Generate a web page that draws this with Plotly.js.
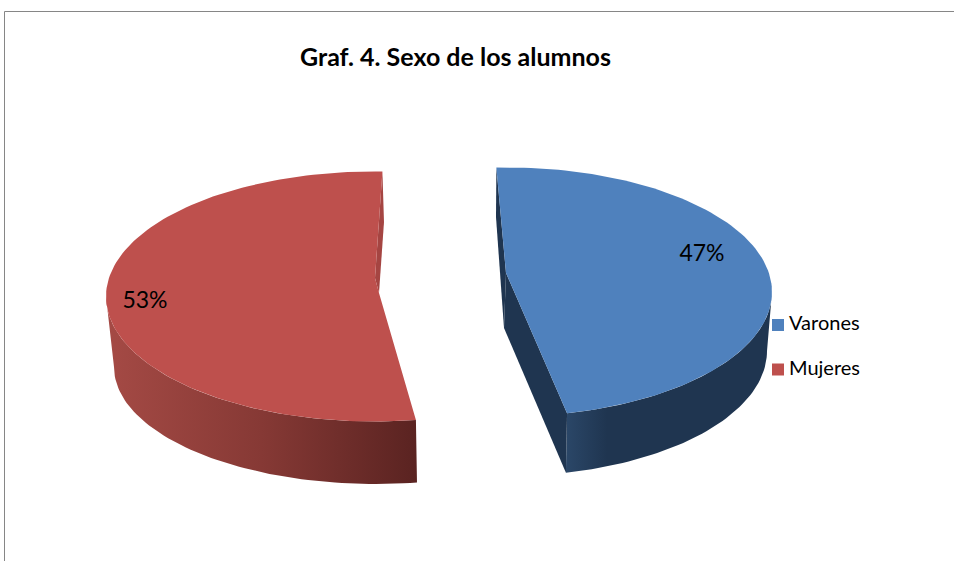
<!DOCTYPE html>
<html>
<head>
<meta charset="utf-8">
<script src="https://cdn.plot.ly/plotly-3.0.1.min.js"></script>
<style>html,body{margin:0;padding:0;background:#fff;overflow:hidden}#chart{width:954px;height:561px}</style>
</head>
<body>
<div id="chart"></div>
<script>
// Data
var categories = ["Varones", "Mujeres"];
var values = [47, 53];
var titleText = "Graf. 4. Sexo de los alumnos";

// Colours
var topColors = ["#4F81BD", "#BE504D"];
var innerColors = ["#1F3550", "#A54542"];
var outerScales = [
  [[0, "#2B4768"], [0.2, "#1F3550"], [1, "#1F3550"]],
  [[0, "#A54A45"], [0.5, "#863935"], [1, "#5A2321"]]
];

// Projection of the tilted, exploded pie (pixel space of the axes)
var startAngles = [-2.3, 171];
var rimTop = [{cx: 507, cy: 292, a: 265, b: 124.5}, {cx: 374, cy: 296.5, a: 268, b: 125}];
var rimBottom = [{cx: 507, cy: 351, a: 260, b: 125}, {cx: 376, cy: 367, a: 262, b: 117}];
var hubTop = [[[506, 273]], [[375, 278], [379, 293]]];
var hubBottom = [504, 328];
var innerBack = [[496, 217], [384, 222]];
var visibleWallEnd = [90, 270];

var total = values.reduce(function (s, v) { return s + v; }, 0);
var spans = values.map(function (v) { return v / total * 360; });

function arc(e, from, to) {
  var n = Math.max(2, Math.ceil(Math.abs(to - from) / 1.5)), xs = [], ys = [];
  for (var i = 0; i <= n; i++) {
    var t = (from + (to - from) * i / n) * Math.PI / 180;
    xs.push(e.cx + e.a * Math.sin(t));
    ys.push(e.cy - e.b * Math.cos(t));
  }
  return {x: xs, y: ys};
}
function poly(x, y, color, grad) {
  var tr = {type: "scatter", mode: "lines", x: x, y: y, fill: "toself", line: {width: 0, color: color},
            fillcolor: color, hoverinfo: "skip", showlegend: false};
  if (grad) tr.fillgradient = {type: "horizontal", colorscale: grad};
  return tr;
}

var traces = [];
values.forEach(function (v, i) {
  var s = startAngles[i], e = s + spans[i];
  var up = arc(rimTop[i], s, e);
  var last = up.x.length - 1;
  var isBlue = i === 0;

  // outer wall
  var wFrom = isBlue ? visibleWallEnd[i] : s;
  var wTo = isBlue ? e : visibleWallEnd[i];
  var a1 = arc(rimTop[i], wFrom, wTo), a2 = arc(rimBottom[i], wTo, wFrom);
  traces.push(poly(a1.x.concat(a2.x), a1.y.concat(a2.y), outerScales[i][1][1], outerScales[i]));

  // cut faces
  if (isBlue) {
    var endLow = arc(rimBottom[i], e, e);
    traces.push(poly([up.x[last], hubTop[i][0][0], hubBottom[0], endLow.x[0]],
                     [up.y[last], hubTop[i][0][1], hubBottom[1], endLow.y[0]], innerColors[i]));
    traces.push(poly([up.x[0], innerBack[i][0], hubBottom[0], hubTop[i][0][0]],
                     [up.y[0], innerBack[i][1], hubBottom[1], hubTop[i][0][1]], innerColors[i]));
  } else {
    traces.push(poly([up.x[last], innerBack[i][0], hubTop[i][1][0], hubTop[i][0][0]],
                     [up.y[last], innerBack[i][1], hubTop[i][1][1], hubTop[i][0][1]], innerColors[i]));
  }

  // top surface
  var hx = hubTop[i].map(function (p) { return p[0]; });
  var hy = hubTop[i].map(function (p) { return p[1]; });
  traces.push(poly(up.x.concat(hx), up.y.concat(hy), topColors[i]));
});

// percentage labels
var labelPos = {x: [702, 145], y: [255.5, 302]};
traces.push({type: "scatter", mode: "text", x: labelPos.x, y: labelPos.y,
  text: values.map(function (v) { return v + "%"; }), textposition: "middle center",
  textfont: {family: "Lato, sans-serif", size: 23, color: "#000"}, hoverinfo: "skip", showlegend: false});

// key
var keyX = 778, keyTextX = 789, keyY = [325, 369.5];
traces.push({type: "scatter", mode: "markers", x: [keyX, keyX], y: keyY,
  marker: {symbol: "square", size: 12, color: topColors, line: {width: 0}}, hoverinfo: "skip", showlegend: false});
traces.push({type: "scatter", mode: "text", x: [keyTextX, keyTextX], y: keyY, text: categories,
  textposition: "middle right",
  textfont: {family: "Lato, sans-serif", size: 20, color: "#000"}, hoverinfo: "skip", showlegend: false});

var layout = {
  width: 954, height: 561, autosize: false,
  margin: {l: 0, r: 0, t: 0, b: 0, pad: 0},
  paper_bgcolor: "#fff", plot_bgcolor: "#fff", showlegend: false,
  title: {text: "<b>" + titleText + "</b>", x: 455.5 / 954, xanchor: "center", xref: "paper",
          y: 1 - 57 / 561, yanchor: "middle", yref: "paper",
          font: {family: "Lato, sans-serif", size: 25, color: "#000"}},
  xaxis: {range: [0, 954], visible: false, fixedrange: true},
  yaxis: {range: [561, 0], visible: false, fixedrange: true},
  shapes: [{type: "rect", xref: "x", yref: "y", x0: 4.5, x1: 1000, y0: 11.5, y1: 600,
            line: {color: "#868686", width: 1}, fillcolor: "rgba(0,0,0,0)", layer: "below"}]
};
Plotly.newPlot("chart", traces, layout, {displayModeBar: false, staticPlot: true});
</script>
</body>
</html>
